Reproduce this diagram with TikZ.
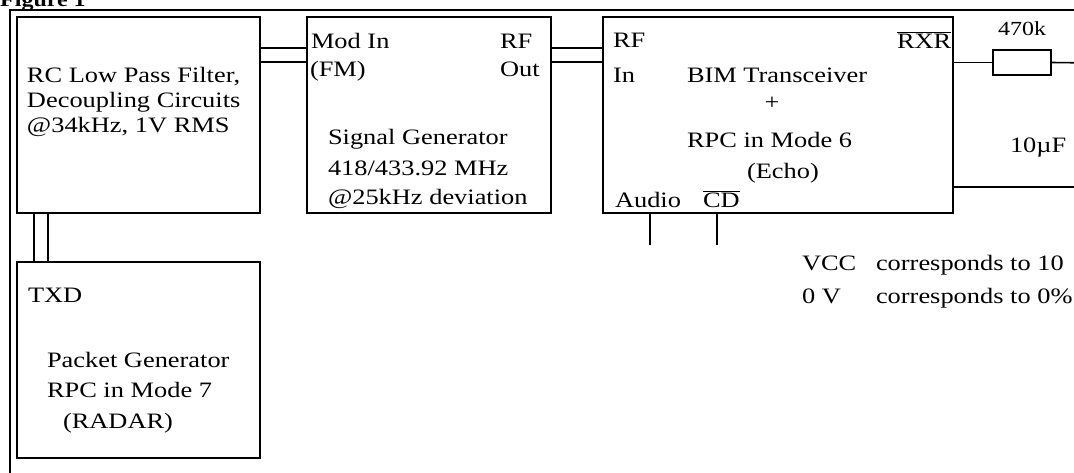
\documentclass[tikz,border=0pt]{standalone}
\usepackage{fontspec}
\setmainfont{Liberation Serif}[FakeStretch=1.2]
\usetikzlibrary{calc}
\begin{document}
\begin{tikzpicture}[x=1pt,y=-1pt,
  box/.style={draw,line width=1.6pt,rectangle,inner sep=0pt,outer sep=0pt},
  wire/.style={line width=1.6pt},
  lbl/.style={anchor=base west,inner sep=0pt,outer sep=0pt,font=\fontsize{22}{26}\selectfont},
  small/.style={anchor=base west,inner sep=0pt,outer sep=0pt,font=\fontsize{20}{24}\selectfont}]
\useasboundingbox (0,0) rectangle (1074,472);
% title
\node[anchor=base west,inner sep=0pt,font=\fontsize{20}{24}\selectfont\bfseries] (title) at (0,6) {Figure 1};
% outer frame
\draw[line width=1.8pt] (10,600) -- (10,10) -- (1200,10);
% boxes
\node[box,minimum width=243pt,minimum height=196pt] (A) at (138.5,115) {};
\node[box,minimum width=244pt,minimum height=196pt] (B) at (429,115) {};
\node[box,minimum width=350pt,minimum height=196pt] (C) at (778,115) {};
\node[box,minimum width=243pt,minimum height=196pt] (D) at (138.5,360) {};
\node[box,minimum width=58pt,minimum height=25pt] (R) at (1022,62.5) {};
% connectors
\draw[wire] ($(A.north east)+(0,31)$) rectangle ($(B.north west)+(0,45)$);
\draw[wire] ($(B.north east)+(0,31)$) rectangle ($(C.north west)+(0,45)$);
\draw[wire] ($(A.south west)+(17,0)$) rectangle ($(D.north west)+(31,0)$);
\coordinate (rend) at (1100,63);
\coordinate (lowend) at (1100,187);
\coordinate (aud) at (650,245);
\coordinate (cdl) at (717,245);
\draw[wire] (R.west -| C.east) -- (R.west);
\draw[wire] (R.east) -- (rend);
\draw[wire] (lowend -| C.east) -- (lowend);
\draw[wire] (aud |- C.south) -- (aud);
\draw[wire] (cdl |- C.south) -- (cdl);
% box A text
\node[lbl] (a1) at (27,82) {RC Low Pass Filter,};
\node[lbl] (a2) at (27,107) {Decoupling Circuits};
\node[lbl] (a3) at (27,132) {@34kHz, 1V RMS};
% box B text
\node[lbl] (b1) at (311,48) {Mod In};
\node[lbl] (b2) at (310,76) {(FM)};
\node[lbl] (b3) at (500,48) {RF};
\node[lbl] (b4) at (500,76) {Out};
\node[lbl] (b5) at (328,144) {Signal Generator};
\node[lbl] (b6) at (328,175) {418/433.92 MHz};
\node[lbl] (b7) at (328,204) {@25kHz deviation};
% box C text
\node[lbl] (c1) at (613,47) {RF};
\node[lbl] (c2) at (613,82) {In};
\node[lbl] (c3) at (687,82) {BIM Transceiver};
\node[lbl,anchor=base] (c4) at (772,109) {+};
\node[lbl] (c5) at (687,147) {RPC in Mode 6};
\node[lbl] (c6) at (747,178) {(Echo)};
\node[lbl] (c7) at (615,207) {Audio};
\node[lbl] (c8) at (703,207) {$\overline{\mbox{CD}}$};
\node[lbl] (c9) at (897,48) {$\overline{\mbox{RXR}}$};
% box D text
\node[lbl] (d1) at (28,302) {TXD};
\node[lbl] (d2) at (47,367) {Packet Generator};
\node[lbl] (d3) at (47,397) {RPC in Mode 7};
\node[lbl] (d4) at (63,428) {(RADAR)};
% right side
\node[small] (r1) at (998,35) {470k};
\node[lbl] (r2) at (1010,152) {10µF};
\node[lbl] (v1) at (802,270) {VCC};
\node[lbl] (v2) at (876,270) {corresponds to 10};
\node[lbl] (v3) at (802,303) {0 V};
\node[lbl] (v4) at (876,303) {corresponds to 0\%};
\end{tikzpicture}
\end{document}
